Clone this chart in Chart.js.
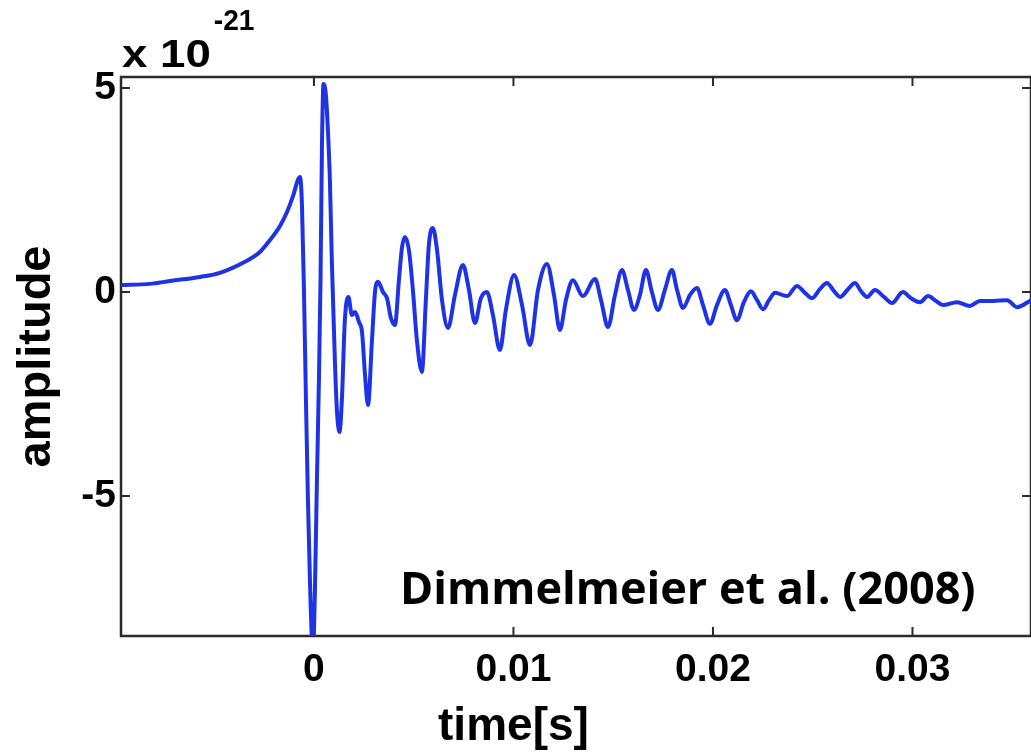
<!DOCTYPE html>
<html>
<head>
<meta charset="utf-8">
<script src="https://cdn.jsdelivr.net/npm/chart.js@4.4.1/dist/chart.umd.min.js"></script>
<style>
html,body{margin:0;padding:0;background:#ffffff;}
#wrap{width:1031px;height:755px;position:relative;overflow:hidden;}
</style>
</head>
<body>
<div id="wrap"><canvas id="c" width="1031" height="755"></canvas></div>
<script>
// ---- data (time in s, amplitude in units of 1e-21) ----
const timeS = [
 -0.00967,-0.00822,-0.00722,-0.00571,-0.00471,-0.00346,-0.00271,-0.00221,-0.00170,-0.00135,
 -0.00105,-0.00080,-0.00070,-0.00060,-0.00050,-0.00040,-0.00030,-0.00020,-0.00010,-0.00004,
  0.00005, 0.00015, 0.00025, 0.00033, 0.00040, 0.00048, 0.00060, 0.00070, 0.00080, 0.00090,
  0.00105, 0.00115, 0.00128, 0.00140, 0.00155, 0.00173, 0.00190, 0.00206, 0.00226, 0.00241,
  0.00256, 0.00271, 0.00291, 0.00306, 0.00321, 0.00346, 0.00366, 0.00386, 0.00406, 0.00426,
  0.00441, 0.00456, 0.00476, 0.00496, 0.00516, 0.00541, 0.00561, 0.00576, 0.00596, 0.00617,
  0.00642, 0.00672, 0.00707, 0.00747, 0.00777, 0.00807, 0.00837, 0.00867, 0.00897, 0.00932,
  0.00962, 0.01003, 0.01043, 0.01083, 0.01123, 0.01168, 0.01203, 0.01233, 0.01263, 0.01298,
  0.01348, 0.01409, 0.01439, 0.01474, 0.01509, 0.01544, 0.01574, 0.01604, 0.01634, 0.01664,
  0.01694, 0.01724, 0.01759, 0.01794, 0.01820, 0.01850, 0.01885, 0.01920, 0.01950, 0.01985,
  0.02020, 0.02060, 0.02090, 0.02120, 0.02155, 0.02190, 0.02221, 0.02251, 0.02281, 0.02311,
  0.02371, 0.02421, 0.02461, 0.02496, 0.02536, 0.02571, 0.02607, 0.02637, 0.02677, 0.02712,
  0.02742, 0.02772, 0.02812, 0.02857, 0.02897, 0.02952, 0.02992, 0.03038, 0.03078, 0.03118,
  0.03153, 0.03223, 0.03288, 0.03338, 0.03404, 0.03474, 0.03524, 0.03594
];
const amplitude = [
  0.17, 0.20, 0.27, 0.37, 0.47, 0.74, 0.98, 1.27, 1.62, 1.96,
  2.35, 2.75, 2.82, 2.13, 0.05,-2.65,-5.10,-7.06,-8.53,-8.70,
 -7.30,-4.61,-2.16, 0.29, 3.48, 5.10, 4.83, 3.97, 2.75, 0.71,
 -1.67,-2.89,-3.43,-2.65,-0.69,-0.12,-0.56,-0.49,-0.74,-0.98,
 -2.03,-2.77,-1.18, 0.00, 0.25, 0.00,-0.15,-0.64,-0.81, 0.29,
  1.08, 1.35, 1.03, 0.05,-1.18,-1.96,-0.20, 1.15, 1.57, 1.03,
 -0.20,-0.88,-0.07, 0.66, 0.05,-0.76,-0.15, 0.00,-0.56,-1.42,
 -0.44, 0.42,-0.32,-1.30, 0.05, 0.69,-0.07,-0.93,-0.20, 0.29,
 -0.10, 0.32,-0.20,-0.86,-0.07, 0.54, 0.05,-0.44,-0.07, 0.54,
  0.00,-0.44, 0.05, 0.54, 0.05,-0.39,-0.07, 0.10,-0.32,-0.78,
 -0.32, 0.05,-0.32,-0.69,-0.25, 0.02,-0.20,-0.42,-0.20,-0.02,
 -0.10, 0.15,-0.02,-0.15, 0.07, 0.22, 0.02,-0.12, 0.07, 0.22,
  0.02,-0.12, 0.05,-0.12,-0.27, 0.00,-0.15,-0.25,-0.10,-0.22,
 -0.32,-0.25,-0.34,-0.22,-0.22,-0.20,-0.37,-0.20
];
const xTickValues = [0, 0.01, 0.02, 0.03];
const xTickLabels = ['0', '0.01', '0.02', '0.03'];
const yTickValues = [-5, 0, 5];
const yTickLabels = ['-5', '0', '5'];
const xRange = [-0.00967, 0.03594];
const yRange = [-8.43, 5.27];
const xTitle = 'time[s]';
const yTitle = 'amplitude';
const exponentBase = 'x 10';
const exponentPower = '-21';
const annotationText = 'Dimmelmeier et al. (2008)';

const points = timeS.map((t, i) => ({ x: t, y: amplitude[i] }));

const FONT = "'Liberation Sans', Arial, Helvetica, sans-serif";

function stretchedText(ctx, text, x, y, sx, sy) {
  ctx.save();
  ctx.translate(x, y);
  ctx.scale(sx, sy);
  ctx.fillText(text, 0, 0);
  ctx.restore();
}

const framePlugin = {
  id: 'frame',
  beforeDatasetsDraw(chart) {
    const { ctx, chartArea: { left, right, top, bottom }, scales: { x, y } } = chart;
    ctx.save();
    ctx.strokeStyle = '#2a2a2a';
    ctx.lineWidth = 2.5;
    ctx.strokeRect(left, top, right - left, bottom - top);
    ctx.lineWidth = 2;
    const L = 9;
    ctx.beginPath();
    xTickValues.forEach(v => {
      const px = x.getPixelForValue(v);
      ctx.moveTo(px, bottom); ctx.lineTo(px, bottom - L);
      ctx.moveTo(px, top); ctx.lineTo(px, top + L);
    });
    yTickValues.forEach(v => {
      const py = y.getPixelForValue(v);
      ctx.moveTo(left, py); ctx.lineTo(left + L, py);
      ctx.moveTo(right, py); ctx.lineTo(right - L, py);
    });
    ctx.stroke();
    ctx.restore();
  },
  afterDraw(chart) {
    const { ctx, chartArea: { left, top, bottom }, scales: { x } } = chart;
    ctx.save();
    ctx.fillStyle = '#000';
    // exponent label
    ctx.textBaseline = 'alphabetic';
    ctx.textAlign = 'left';
    ctx.font = "bold 39px " + FONT;
    const sxBase = 1.17;
    stretchedText(ctx, exponentBase, left + 1, top - 10, sxBase, 1);
    const w = ctx.measureText(exponentBase).width * sxBase;
    ctx.font = "bold 26px " + FONT;
    stretchedText(ctx, exponentPower, left + 1 + w + 3, top - 47, 1.08, 1.15);
    // x axis title, centered under the 0.01 tick
    ctx.font = "bold 46px " + FONT;
    ctx.textAlign = 'center';
    ctx.textBaseline = 'middle';
    ctx.fillText(xTitle, x.getPixelForValue(xTickValues[1]), 727);
    // annotation
    ctx.font = "bold 45px 'Open Sans', 'Liberation Sans', sans-serif";
    ctx.textAlign = 'left';
    ctx.textBaseline = 'alphabetic';
    ctx.fillText(annotationText, 400, bottom - 32);
    ctx.restore();
  }
};

new Chart(document.getElementById('c'), {
  type: 'line',
  data: {
    datasets: [{
      data: points,
      borderColor: '#1f33e6',
      borderWidth: 4,
      pointRadius: 0,
      fill: false,
      cubicInterpolationMode: 'monotone',
      clip: 0
    }]
  },
  options: {
    responsive: false,
    animation: false,
    devicePixelRatio: 1,
    layout: { padding: { top: 77, right: 0, left: 0, bottom: 0 } },
    plugins: { legend: { display: false }, tooltip: { enabled: false } },
    scales: {
      x: {
        type: 'linear',
        min: xRange[0],
        max: xRange[1],
        afterBuildTicks: s => { s.ticks = xTickValues.map(v => ({ value: v })); },
        afterFit: s => { s.height = 119; },
        grid: { display: false, drawTicks: false },
        border: { display: false },
        ticks: {
          autoSkip: false, maxRotation: 0, padding: 11, color: '#000',
          font: { family: FONT, size: 39, weight: 'bold' },
          callback: (v, i) => xTickLabels[i]
        }
      },
      y: {
        type: 'linear',
        min: yRange[0],
        max: yRange[1],
        afterBuildTicks: s => { s.ticks = yTickValues.map(v => ({ value: v })); },
        afterFit: s => { s.width = 121; },
        grid: { display: false, drawTicks: false },
        border: { display: false },
        ticks: {
          autoSkip: false, padding: 5, color: '#000',
          font: { family: FONT, size: 39, weight: 'bold' },
          callback: (v, i) => yTickLabels[i]
        },
        title: {
          display: true, text: yTitle, color: '#000',
          font: { family: FONT, size: 47, weight: 'bold' },
          padding: { top: 9, bottom: 0 }
        }
      }
    }
  },
  plugins: [framePlugin]
});
</script>
</body>
</html>
